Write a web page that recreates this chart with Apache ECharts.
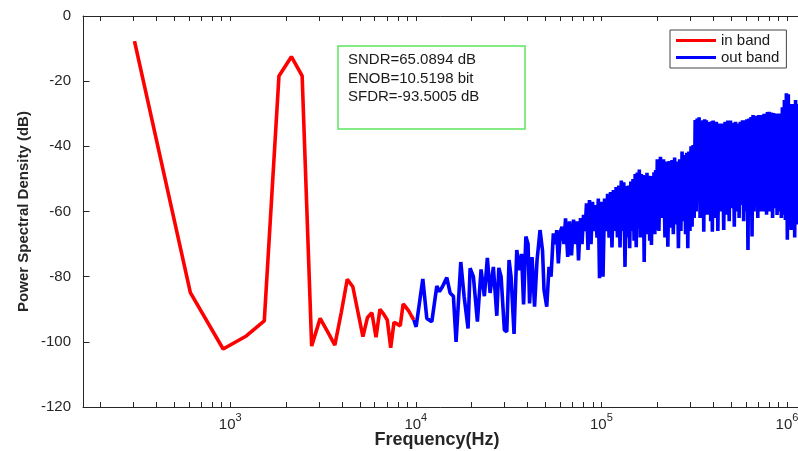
<!DOCTYPE html>
<html><head><meta charset="utf-8">
<script src="https://cdn.jsdelivr.net/npm/echarts@6/dist/echarts.min.js"></script>
<style>html,body{margin:0;padding:0;background:#fff}#c{width:798px;height:451px}</style>
</head><body><div id="c"></div>
<script>
// ---- in band (red) ----
const redFreq = [305,610,916,1221,1526,1831,2136,2441,2747,3052,3357,3662,3967,4273,4578,4883,5188,5493,5798,6104,6409,6714,7019,7324,7630,7935,8240,8545,8850,9155,9461,9766];
const redVal = [-7.7,-84.9,-102.2,-98.2,-93.6,-18.4,-12.5,-18.4,-101.3,-92.8,-97,-101,-91,-80.8,-83.1,-91,-98.4,-92.5,-91.1,-98.6,-90.0,-91.5,-93.3,-101.8,-94,-94.5,-95.1,-88.4,-89.4,-90.5,-92,-93.3];

// ---- out band (blue), sparse part ----
const blueFreqLow = [9766,10037,10906,11462,12194,12977,13400,13910,14690,15300,15940,16480,17470,18200,19120,19610,20430,21470,22470,23410,24290,25130,26170,27310,28000,28810,30000,30910,31800,32600,33830,34990,36220,37140,38070,39170,40250,41010,42300,43630,44990,46700,48170,49070,50750,52220,53540,55080,56600,57450,58600,60220,61350,62890,64070,65840,67320,69020,70760,72090,73900,75280,77170,78620,80100,81600,83110,84670,86230,87900,89550,91230,92940,94690,96230,97670];
const blueValLow = [-93.3,-95.4,-80.7,-92.8,-93.8,-82.9,-84.6,-83.1,-80.3,-85,-86,-100,-75.5,-86,-95.9,-77.4,-80,-93.8,-77.8,-86,-74.2,-85,-77,-92,-77.3,-80,-96.4,-96.9,-74.9,-80,-97.6,-71.8,-78,-73,-88.5,-67.7,-70,-88.2,-74,-89.2,-75,-65.7,-72,-84.1,-89.2,-77,-80,-66.7,-70,-65.7,-75.9,-66,-64.7,-70,-62.1,-73.9,-63,-73.5,-62.5,-70,-63,-75,-62,-70,-61,-66,-57.5,-71.8,-56.5,-70,-57,-66,-58,-68,-56,-80.5];

// ---- out band (blue), dense part, read as alternating top / bottom of the band ----
const blueFreqA = [100000,102000,104000,106000,108000,110000,112000,114000,116000,118000,120000,122000,124000,126000,128000,130000,132000,134000,136000,138000,140000,142000,144000,146000,148000,150000,152000,154000,156000,158000,160000,162000,164000,166000,168000,170000,172000,174000,176000,178000,180000,182000,184000,186000,188000,190000,192000,194000,196000,198000];
const blueValA = [-57,-80,-56,-66,-54.6,-68,-54,-71,-53.4,-66,-52.5,-68,-52,-71,-50.5,-66,-51,-77,-52.2,-68,-52,-71.3,-50.8,-66,-50,-69,-48.5,-71,-48,-65,-47.1,-68,-48.5,-66,-48.8,-75.5,-49,-67,-48.1,-65,-49,-69,-49.5,-70.3,-49.1,-64,-48,-67,-47.3,-65.7];
const blueFreqB = [200000,204000,208000,212000,216000,220000,224000,228000,232000,236000,240000,244000,248000,252000,256000,260000,264000,268000,272000,276000,280000,284000,288000,292000,296000,300000,304000,308000,312000,316000,320000,324000,328000,332000,336000,340000,344000,348000,352000,356000,360000,364000,368000,372000,376000,380000,384000,388000,392000,396000];
const blueValB = [-44,-66,-43.2,-62,-44,-68,-44.7,-70.8,-44.5,-65,-44.2,-67,-43.4,-64,-44.7,-71.3,-44,-66,-41.6,-63,-42.7,-67,-42,-71.3,-41.6,-66,-40,-64.7,-39.6,-62,-31.9,-60,-31.5,-56.5,-31.1,-62,-32.4,-60,-32,-66.2,-31.7,-59,-32,-61,-32.5,-58,-32.7,-63,-32.3,-66.2];
const blueFreqC = [400000,408000,416000,424000,432000,440000,448000,456000,464000,472000,480000,488000,496000,504000,512000,520000,528000,536000,544000,552000,560000,568000,576000,584000,592000,600000,608000,616000,624000,632000,640000,648000,656000,664000,672000,680000,688000,696000,704000,712000,720000,728000,736000,744000,752000,760000,768000,776000,784000,792000];
const blueValC = [-32.1,-62,-32.5,-66,-33,-60,-33,-65.7,-32.5,-61,-32.1,-63,-32.1,-59,-32.8,-64.7,-32.5,-60,-33,-62,-32.5,-58,-32,-63,-32,-60,-31.7,-71.8,-31.5,-61,-31,-67.7,-30.4,-60,-30.6,-58,-30.8,-62,-30.4,-60,-30.6,-57,-30.4,-60,-30,-58.5,-30,-61,-29.5,-58];
const blueFreqD = [800000,812000,824000,836000,848000,860000,872000,884000,896000,908000,920000,932000,944000,956000,968000,980000,992000,1004000,1016000,1028000,1040000,1052000,1064000,1076000,1088000,1100000,1112000,1124000,1136000];
const blueValD = [-29.4,-60,-29.6,-62,-29.8,-59,-30,-61.1,-29.9,-60,-29.9,-62,-28,-61,-25.8,-62.6,-23.7,-68.7,-24,-63,-27,-65.7,-28,-62,-27,-68,-25.8,-64,-27];

// ---- axes / text ----
const xTickValues = [200,300,400,500,600,700,800,900,1000,2000,3000,4000,5000,6000,7000,8000,9000,10000,20000,30000,40000,50000,60000,70000,80000,90000,100000,200000,300000,400000,500000,600000,700000,800000,900000,1000000];
const xLabelValues = [1000,10000,100000,1000000];
const seriesNames = ['in band','out band'];
const annotLines = ['SNDR=65.0894 dB','ENOB=10.5198 bit','SFDR=-93.5005 dB'];
const xName = 'Frequency(Hz)';
const yName = 'Power Spectral Density (dB)';

const zip = (f, v) => f.map((x, i) => [x, v[i]]);
const redData = zip(redFreq, redVal);
const blueData = [].concat(zip(blueFreqLow, blueValLow), zip(blueFreqA, blueValA), zip(blueFreqB, blueValB), zip(blueFreqC, blueValC), zip(blueFreqD, blueValD));

const FONT = 'Liberation Sans, Arial, sans-serif';
const AX = '#262626';
const chart = echarts.init(document.getElementById('c'), null, {renderer: 'canvas'});
const xCommon = {
  type: 'log', logBase: 10, min: 161, max: 1250000, gridIndex: 0,
  axisLine: {show: true, onZero: false, lineStyle: {color: AX, width: 1}},
  axisTick: {show: true, inside: true, length: 5, customValues: xTickValues, lineStyle: {color: AX}},
  splitLine: {show: false}, minorTick: {show: false}, minorSplitLine: {show: false}
};
chart.setOption({
  animation: false,
  backgroundColor: '#ffffff',
  grid: {left: 83, top: 16, width: 722, height: 391, containLabel: false, outerBoundsMode: 'none'},
  title: {
    text: annotLines.join('\n'), left: 338, top: 46, padding: [5, 46, 23, 10],
    borderColor: '#5ee65e', borderWidth: 1.5, backgroundColor: '#fff',
    textStyle: {fontFamily: FONT, fontSize: 15, fontWeight: 'normal', color: '#1a1a1a', lineHeight: 18.5}
  },
  legend: {
    data: seriesNames, orient: 'vertical', left: 670, top: 30,
    padding: [3, 7, 3, 6], itemGap: 2, itemWidth: 40, itemHeight: 3, itemTextGap: 4,
    icon: 'rect', backgroundColor: '#fff', borderColor: '#444', borderWidth: 1,
    textStyle: {fontFamily: FONT, fontSize: 15, color: '#1a1a1a', lineHeight: 14}
  },
  xAxis: [
    Object.assign({}, xCommon, {
      position: 'bottom',
      axisLabel: {
        show: true, customValues: xLabelValues, margin: 5,
        formatter: v => '{b|10}{s|' + Math.round(Math.log10(v)) + '}',
        rich: {
          b: {fontFamily: FONT, fontSize: 15, color: AX, lineHeight: 20, verticalAlign: 'bottom'},
          s: {fontFamily: FONT, fontSize: 11, color: AX, lineHeight: 11, verticalAlign: 'top'}
        }
      },
      name: xName, nameLocation: 'middle', nameGap: 24, nameMoveOverlap: false,
      nameTextStyle: {fontFamily: FONT, fontSize: 18, fontWeight: 'bold', color: AX, padding: [0, 14, 0, 0]}
    }),
    Object.assign({}, xCommon, {position: 'top', axisLabel: {show: false}})
  ],
  yAxis: {
    type: 'value', min: -120, max: 0, interval: 20,
    axisLine: {show: true, onZero: false, lineStyle: {color: AX, width: 1}},
    axisTick: {show: true, inside: true, length: 6.5, lineStyle: {color: AX}},
    axisLabel: {fontFamily: FONT, fontSize: 15, color: AX, margin: 12},
    splitLine: {show: false},
    name: yName, nameLocation: 'middle', nameGap: 52, nameMoveOverlap: false,
    nameTextStyle: {fontFamily: FONT, fontSize: 15, fontWeight: 'bold', color: AX}
  },
  series: [
    {name: seriesNames[0], type: 'line', data: redData, showSymbol: false, symbol: 'none',
     lineStyle: {color: '#ff0000', width: 3.6}, itemStyle: {color: '#ff0000'}, z: 2},
    {name: seriesNames[1], type: 'line', data: blueData, showSymbol: false, symbol: 'none',
     lineStyle: {color: '#0000ff', width: 3.6}, itemStyle: {color: '#0000ff'}, z: 3}
  ]
});
</script>
</body></html>
